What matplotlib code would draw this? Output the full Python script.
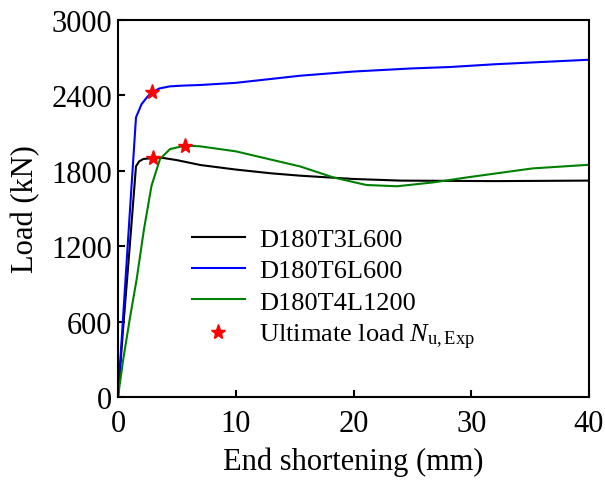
import matplotlib
matplotlib.use("Agg")
import matplotlib.pyplot as plt

plt.rcParams['font.family'] = 'Liberation Serif'
plt.rcParams['mathtext.fontset'] = 'custom'
plt.rcParams['mathtext.rm'] = 'Liberation Serif'
plt.rcParams['mathtext.it'] = 'Liberation Serif:italic'

# load-shortening curves
x_t3l600 = [0, 0.45, 1.0, 1.53, 1.8, 2.15, 3.0, 3.85, 5, 7, 10, 13, 15.5, 20, 24, 28, 32, 36, 40]
y_t3l600 = [0, 560, 1200, 1836, 1875, 1894, 1902, 1902, 1885, 1846, 1810, 1780, 1761, 1735, 1722, 1720, 1718, 1720, 1722]

x_t6l600 = [0, 0.5, 1.0, 1.53, 2.0, 2.5, 2.92, 3.5, 4.4, 5.5, 7, 10, 15.5, 20, 25, 28.2, 32, 36, 40]
y_t6l600 = [0, 730, 1460, 2225, 2330, 2390, 2425, 2455, 2472, 2478, 2483, 2500, 2557, 2590, 2615, 2626, 2648, 2666, 2684]

x_t4l1200 = [0, 0.45, 1.0, 1.59, 2.2, 2.85, 3.57, 4.42, 5.69, 6.96, 10, 12.5, 15.46, 18.3, 21.1, 23.7, 26.8, 29.6, 35.2, 40]
y_t4l1200 = [0, 302, 620, 939, 1330, 1682, 1894, 1973, 2000, 1995, 1955, 1900, 1835, 1747, 1687, 1677, 1708, 1747, 1819, 1848]

# ultimate loads
peak_x = [3.0, 2.92, 5.69]
peak_y = [1902, 2425, 2000]

fig = plt.figure(figsize=(6.05, 4.81), dpi=100)
ax = fig.add_axes([0.195, 0.1726, 0.7786, 0.7837])

ax.plot(x_t3l600, y_t3l600, color='black', lw=1.5, label='D180T3L600')
ax.plot(x_t6l600, y_t6l600, color='blue', lw=1.5, label='D180T6L600')
ax.plot(x_t4l1200, y_t4l1200, color='green', lw=1.5, label='D180T4L1200')
ax.plot(peak_x, peak_y, ls='none', marker='*', color='red', ms=11,
        label=r'Ultimate load $\mathit{N}_{\mathregular{u,Exp}}$', zorder=5)

ax.set_xlim(0, 40)
ax.set_ylim(0, 3000)
ax.set_xticks([0, 10, 20, 30, 40])
ax.set_yticks([0, 600, 1200, 1800, 2400, 3000])
ax.tick_params(direction='in', length=5, width=1.5, labelsize=22)
ax.tick_params(axis='x', pad=9)
ax.tick_params(axis='y', pad=4)
for s in ax.spines.values():
    s.set_linewidth(1.5)

ax.set_xlabel('End shortening (mm)', fontsize=22, labelpad=6)
ax.set_ylabel('Load (kN)', fontsize=22, labelpad=8)

ax.legend(loc='upper left', bbox_to_anchor=(0.157, 0.45), frameon=False,
          fontsize=19, borderpad=0, borderaxespad=0, labelspacing=0.3,
          handlelength=2.0, handletextpad=0.55)

fig.savefig('out.png', dpi=100)
